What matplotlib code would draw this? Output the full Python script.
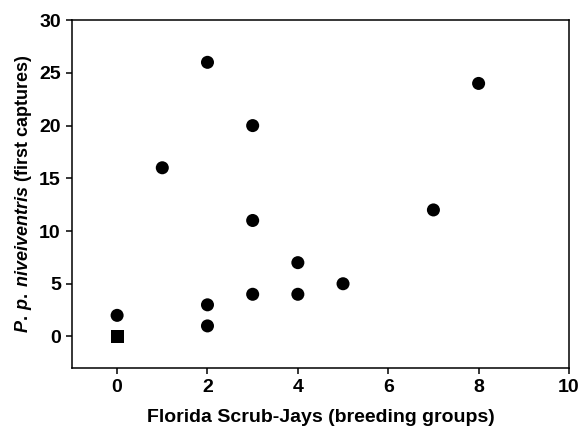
import matplotlib
matplotlib.use('Agg')
import matplotlib.pyplot as plt

# Florida Scrub-Jays (breeding groups) vs P. p. niveiventris (first captures)
jays = [0, 1, 2, 2, 2, 3, 3, 3, 4, 4, 5, 7, 8]
mice = [2, 16, 26, 3, 1, 20, 11, 4, 7, 4, 5, 12, 24]
jays_sq = [0]
mice_sq = [0]

xticks = [0, 2, 4, 6, 8, 10]
yticks = [0, 5, 10, 15, 20, 25, 30]

plt.rcParams['font.family'] = ['Liberation Sans', 'DejaVu Sans']
plt.rcParams['font.weight'] = 'bold'
plt.rcParams['mathtext.fontset'] = 'custom'
plt.rcParams['mathtext.it'] = 'Liberation Sans:italic:bold'
plt.rcParams['mathtext.rm'] = 'Liberation Sans:bold'
plt.rcParams['mathtext.bf'] = 'Liberation Sans:bold'

fig = plt.figure(figsize=(5.8, 4.29), dpi=100)
ax = fig.add_axes([0.124, 0.142, 0.857, 0.811])

ax.scatter(jays, mice, s=88, c='black', marker='o', edgecolors='none', zorder=3)
ax.scatter(jays_sq, mice_sq, s=88, c='black', marker='s', edgecolors='none', zorder=3)

ax.set_xlim(-1, 10)
ax.set_ylim(-3, 30)
ax.set_xticks(xticks)
ax.set_yticks(yticks)
for sp in ax.spines.values():
    sp.set_linewidth(1.1)
ax.tick_params(direction='out', length=4, width=1.1, labelsize=14, pad=4)
for lab in ax.get_xticklabels() + ax.get_yticklabels():
    lab.set_fontweight('bold')

ax.set_xlabel('Florida Scrub-Jays (breeding groups)', fontsize=14, fontweight='bold', labelpad=9)
ax.set_ylabel(r'$\mathit{P.\:p.\:niveiventris}$ (first captures)', fontsize=13,
              fontweight='bold', labelpad=4)

fig.savefig('out.png', dpi=100)
